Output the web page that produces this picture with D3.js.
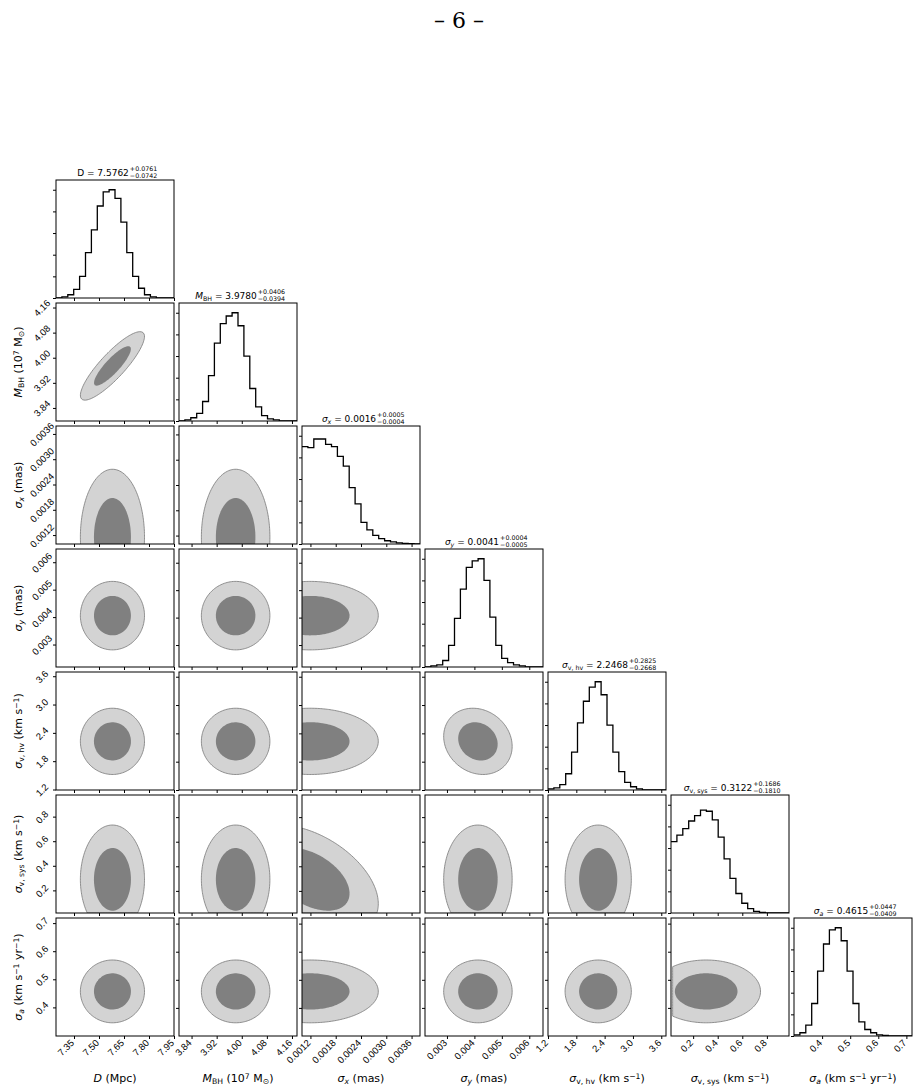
<!DOCTYPE html>
<html><head><meta charset="utf-8">
<script src="https://cdn.jsdelivr.net/npm/d3@7/dist/d3.min.js"></script>
<style>body{margin:0;background:#fff}svg{font-family:"DejaVu Sans",sans-serif}</style>
</head><body><div id="chart"></div>
<script>
// parameter names, axis ranges and ticks
var names = ["D","M","sx","sy","hv","sys","a"];
var domains = [[7.242,7.95],[3.80,4.176],[0.0010,0.0038],[0.0022,0.0065],[1.2,3.7],[0.02,0.98],[0.3,0.72]];
var ticks = [[7.35,7.50,7.65,7.80,7.95],[3.84,3.92,4.00,4.08,4.16],[0.0012,0.0018,0.0024,0.0030,0.0036],
  [0.003,0.004,0.005,0.006],[1.2,1.8,2.4,3.0,3.6],[0.2,0.4,0.6,0.8],[0.4,0.5,0.6,0.7]];
var tickFmt = [".2f",".2f",".4f",".3f",".1f",".1f",".1f"];
// posterior summaries (median, +err, -err) and shape of the 2D contours
var medians = ["7.5762","3.9780","0.0016","0.0041","2.2468","0.3122","0.4615"];
var errPlus = ["0.0761","0.0406","0.0005","0.0004","0.2825","0.1686","0.0447"];
var errMinus = ["0.0742","0.0394","0.0004","0.0005","0.2668","0.1810","0.0409"];
var centers = [7.576,3.978,0.00118,0.0041,2.247,0.30,0.4615];
var spreads = [0.074,0.042,0.00062,0.00048,0.27,0.17,0.043];
var lowerBounds = [null,null,0.00098,null,null,0.02,null];
var corr = {"1,0":0.86,"5,2":-0.45,"3,2":0.0,"4,3":-0.15,"6,5":0.0};
// marginal histograms (20 bins over each domain)
var histD = [0,0.01,0.03,0.08,0.2,0.42,0.63,0.85,0.98,1.0,0.92,0.7,0.42,0.2,0.09,0.03,0.01,0,0,0];
var histM = [0,0.01,0.03,0.07,0.18,0.42,0.72,0.9,0.97,1.0,0.88,0.6,0.3,0.13,0.05,0.02,0.01,0,0,0];
var histSx = [0.9,0.89,0.97,0.97,0.92,0.9,0.81,0.72,0.52,0.37,0.2,0.13,0.08,0.05,0.03,0.02,0.01,0.005,0.003,0];
var histSy = [0,0.01,0.02,0.06,0.2,0.45,0.72,0.92,0.98,1.0,0.8,0.46,0.2,0.08,0.04,0.02,0.01,0,0,0];
var histHv = [0.01,0.02,0.05,0.15,0.35,0.62,0.82,0.95,1.0,0.88,0.6,0.35,0.17,0.07,0.03,0.01,0,0,0,0];
var histSys = [0.66,0.72,0.78,0.85,0.9,0.95,0.94,0.86,0.7,0.5,0.32,0.18,0.09,0.04,0.015,0.006,0.002,0,0,0];
var histA = [0.01,0.03,0.1,0.3,0.6,0.85,0.98,1.0,0.88,0.6,0.3,0.13,0.06,0.03,0.01,0.005,0,0,0,0];
var hists = [histD,histM,histSx,histSy,histHv,histSys,histA];

// label pieces: [text, style]
var labels = [
  [["D","i"],[" (Mpc)"]],
  [["M","i"],["BH","sub"],[" (10"],["7","sup"],[" M"],["⊙","sub"],[")"]],
  [["σ","i"],["x","subi"],[" (mas)"]],
  [["σ","i"],["y","subi"],[" (mas)"]],
  [["σ","i"],["v, hv","sub"],[" (km s"],["−1","sup"],[")"]],
  [["σ","i"],["v, sys","sub"],[" (km s"],["−1","sup"],[")"]],
  [["σ","i"],["a","subi"],[" (km s"],["−1","sup"],[" yr"],["−1","sup"],[")"]]
];
var titleSyms = [[["D"]],[["M","i"],["BH","sub"]],[["σ","i"],["x","subi"]],[["σ","i"],["y","subi"]],
  [["σ","i"],["v, hv","sub"]],[["σ","i"],["v, sys","sub"]],[["σ","i"],["a","subi"]]];

var W = 918, H = 1089, x0 = 56, y0 = 180, step = 123, size = 118, n = 7;
var svg = d3.select("#chart").append("svg").attr("width",W).attr("height",H);

svg.append("text").attr("x",W/2).attr("y",28).attr("text-anchor","middle")
  .style("font-family","'DejaVu Serif',serif").style("font-size","22px").text("– 6 –");

function rich(sel, parts, fs) {
  parts.forEach(function(p) {
    var t = sel.append("tspan").text(p[0]), s = p[1] || "";
    if (s === "i" || s === "subi") t.style("font-style","italic");
    if (s === "sub" || s === "subi") t.attr("baseline-shift","-25%").style("font-size",(fs*0.7)+"px");
    if (s === "sup") t.attr("baseline-shift","40%").style("font-size",(fs*0.7)+"px");
  });
  return sel;
}

var xs = domains.map(function(d){ return d3.scaleLinear().domain(d).range([0,size]); });
var ys = domains.map(function(d){ return d3.scaleLinear().domain(d).range([size,0]); });

function rSq(i, j, vx, vy) {
  if (lowerBounds[j] !== null && vx < lowerBounds[j]) return 1e9;
  if (lowerBounds[i] !== null && vy < lowerBounds[i]) return 1e9;
  var u = (vx - centers[j]) / spreads[j], v = (vy - centers[i]) / spreads[i];
  var rho = corr[i+","+j] || 0;
  return (u*u - 2*rho*u*v + v*v) / (1 - rho*rho);
}

for (var i = 0; i < n; i++) {
  for (var j = 0; j <= i; j++) {
    var g = svg.append("g").attr("transform","translate("+(x0+j*step)+","+(y0+i*step)+")");
    var cid = "c"+i+"_"+j;
    g.append("clipPath").attr("id",cid).append("rect").attr("width",size).attr("height",size);
    if (i === j) {
      var h = hists[i], dom = domains[i], bw = (dom[1]-dom[0]) / h.length;
      var hy = d3.scaleLinear().domain([0,1.09]).range([size,0]);
      var pts = [];
      h.forEach(function(v,k){ pts.push([dom[0]+k*bw, v]); pts.push([dom[0]+(k+1)*bw, v]); });
      g.append("path").attr("clip-path","url(#"+cid+")")
        .attr("d", d3.line().x(function(d){ return xs[i](d[0]); }).y(function(d){ return hy(d[1]); })(pts))
        .attr("fill","none").attr("stroke","#000").attr("stroke-width",1.3);
      g.append("g").call(d3.axisLeft(hy).ticks(5).tickSize(3).tickFormat(""))
        .call(function(a){ a.select(".domain").remove(); });
      // title
      var tg = g.append("g");
      var tt = tg.append("text").attr("y",-4).style("font-size","9px");
      rich(tt, titleSyms[i].concat([[" = "+medians[i]]]), 9);
      var w = tt.node().getComputedTextLength();
      tg.append("text").attr("x",w+1).attr("y",-9).style("font-size","6.3px").text("+"+errPlus[i]);
      tg.append("text").attr("x",w+1).attr("y",-2).style("font-size","6.3px").text("−"+errMinus[i]);
      tg.attr("transform","translate("+((size-w-24)/2)+",0)");
    } else {
      var gw = 90, grid = [];
      var ex = d3.scaleLinear().domain([0,gw-1]).range([-10,size+10]);
      for (var r = 0; r < gw; r++) for (var c = 0; c < gw; c++) {
        grid.push(-rSq(i, j, xs[j].invert(ex(c)), ys[i].invert(ex(r))));
      }
      var cs = d3.contours().size([gw,gw]).thresholds([-2.6*2.6, -1.5*1.5])(grid);
      var proj = d3.geoTransform({point: function(px,py){ this.stream.point(ex(px), ex(py)); }});
      var gp = d3.geoPath(proj);
      g.append("g").attr("clip-path","url(#"+cid+")").selectAll("path").data(cs).join("path")
        .attr("d", gp).attr("fill", function(d,k){ return k === 0 ? "#d3d3d3" : "#808080"; })
        .attr("stroke", function(d,k){ return k === 0 ? "#777" : "none"; }).attr("stroke-width",0.8);
      var ya = g.append("g").call(d3.axisLeft(ys[i]).tickValues(ticks[i]).tickSize(3).tickFormat(d3.format(tickFmt[i])));
      ya.select(".domain").remove();
      if (j === 0) {
        ya.selectAll("text").style("font-size","9.5px").attr("text-anchor","middle")
          .attr("dx",null).attr("x",0).attr("y",0)
          .attr("transform", function(d){ return "translate(-14,"+ys[i](d)+") rotate(-45)"; })
          .attr("dy","0.35em");
        ya.selectAll(".tick").attr("transform",null);
        ya.selectAll(".tick line").attr("y1",function(d){ return ys[i](d); }).attr("y2",function(d){ return ys[i](d); });
        rich(g.append("text").attr("text-anchor","middle").style("font-size","11px")
          .attr("transform","translate(-34,"+(size/2)+") rotate(-90)"), labels[i], 11);
      } else ya.selectAll("text").remove();
    }
    var xa = g.append("g").attr("transform","translate(0,"+size+")")
      .call(d3.axisBottom(xs[j]).tickValues(ticks[j]).tickSize(3).tickFormat(d3.format(tickFmt[j])));
    xa.select(".domain").remove();
    if (i === n-1) {
      xa.selectAll("text").style("font-size","9.5px").attr("text-anchor","end")
        .attr("dy","0.35em").attr("y",0).attr("x",-3).attr("transform","translate(0,3) rotate(-45)");
      rich(g.append("text").attr("x",size/2).attr("y",size+46).attr("text-anchor","middle").style("font-size","11px"), labels[j], 11);
    } else xa.selectAll("text").remove();
    g.append("rect").attr("width",size).attr("height",size).attr("fill","none").attr("stroke","#000").attr("stroke-width",1);
  }
}
</script></body></html>
